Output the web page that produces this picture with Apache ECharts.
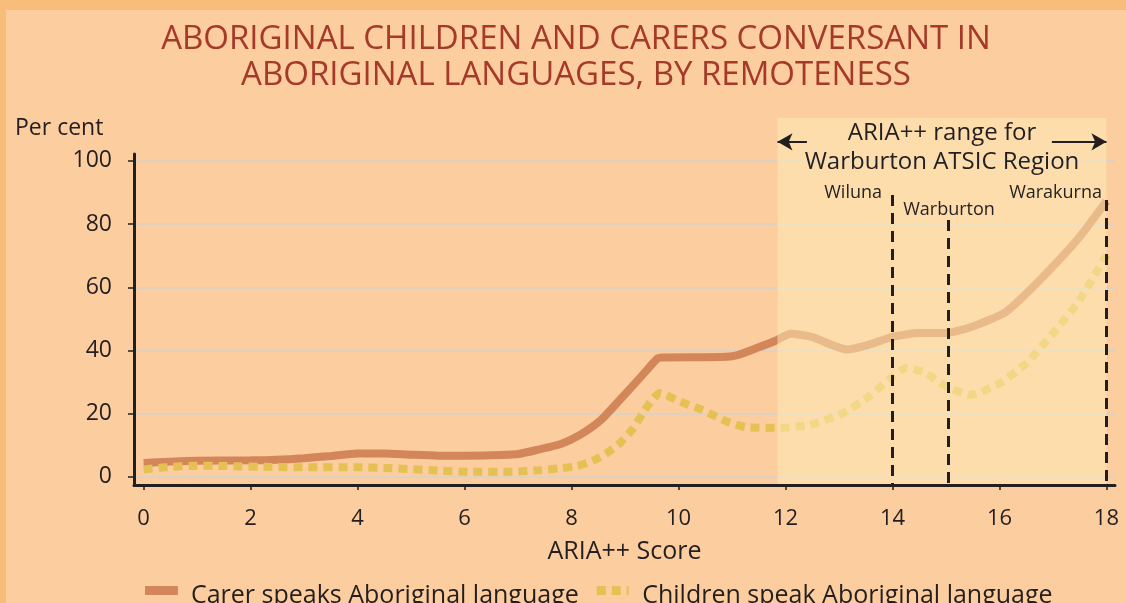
<!DOCTYPE html>
<html>
<head>
<meta charset="utf-8">
<script src="https://cdn.jsdelivr.net/npm/echarts@6/dist/echarts.min.js"></script>
<style>
  html, body { margin: 0; padding: 0; }
  #chart { width: 1126px; height: 603px; }
</style>
</head>
<body>
<div id="chart"></div>
<script>
// ARIA++ score / per cent
const carerScore = [0, 0.5, 1, 2, 2.5, 3, 3.5, 4, 4.5, 5, 5.5, 6, 6.5, 7, 7.4, 7.8, 8.15, 8.55, 8.9, 9.3, 9.6,
  9.7, 10.8, 11.1, 11.5, 11.8, 12.1, 12.5, 13.15, 13.5, 14, 14.5, 15, 15.5, 16.1, 16.5, 17.1, 17.5, 18]
const carerPct = [4.4, 4.8, 5.1, 5.2, 5.4, 5.9, 6.6, 7.4, 7.4, 7.0, 6.7, 6.7, 6.8, 7.2, 8.7, 10.4, 13.2, 18.0, 24.3, 31.7, 37.4,
  37.8, 37.9, 38.5, 41, 43, 45.3, 44.2, 40.3, 41.5, 44.3, 45.5, 45.5, 47.6, 52, 58, 68.4, 76, 87.3]

const childScore = [0, 0.4, 1, 1.5, 2.4, 3, 4, 4.5, 5, 5.5, 6.1, 6.9, 7.4, 7.8, 8.1, 8.4, 8.65, 8.9, 9.15, 9.35, 9.5, 9.65,
  10.0, 10.45, 10.95, 11.3, 11.9, 12.45, 13.05, 13.55, 14, 14.25, 14.6, 15, 15.45, 16, 16.5, 17, 17.5, 18]
const childPct = [2.3, 3.0, 3.5, 3.4, 3.1, 3.0, 3.0, 2.8, 2.4, 2.0, 1.6, 1.6, 2.1, 2.7, 3.4, 5.1, 7.4, 10.6, 15.3, 20.6, 24.2, 26.5,
  24.0, 21.1, 17.2, 15.6, 15.5, 16.4, 20, 25.3, 31.7, 34.4, 33.0, 28.6, 25.9, 29.6, 35.9, 45.4, 56, 70.2]

const xTicks = [0, 2, 4, 6, 8, 10, 12, 14, 16, 18]
const yTicks = [0, 20, 40, 60, 80, 100]

// shaded ARIA++ range for Warburton ATSIC region
const regionRange = [11.85, 18]
// communities: name, score, top of dashed marker (per cent)
const places = ['Wiluna', 'Warburton', 'Warakurna']
const placeScore = [14.0, 15.05, 18]
const placeTop = [89.2, 81.3, 87.6]

const seriesNames = ['Carer speaks Aboriginal language', 'Children speak Aboriginal language']

const INK = '#231F20'
const FONT = '"Open Sans", "Noto Sans", sans-serif'

const chart = echarts.init(document.getElementById('chart'))

const zip = (xs, ys) => xs.map((x, i) => [x, ys[i]])

// legend swatches sit in the upper half of the icon box (tiny dot pins the box height)
const carerIcon = 'path://M0,0h33v9h-33z M0,19h0.05v0.05h-0.05z'
const childIcon = 'path://M0,0h9v9h-9z M15,0h9v9h-9z M30,0h2v9h-2z M0,19h0.05v0.05h-0.05z'

const option = {
  animation: false,
  backgroundColor: '#FCCD9E',
  title: {
    text: 'ABORIGINAL CHILDREN AND CARERS CONVERSANT IN\nABORIGINAL LANGUAGES, BY REMOTENESS',
    left: 571,
    top: 17,
    textAlign: 'center',
    textStyle: { fontFamily: FONT, fontSize: 33, lineHeight: 36, fontWeight: 'normal', color: '#A53A2A' }
  },
  legend: {
    data: [
      { name: seriesNames[0], icon: carerIcon },
      { name: seriesNames[1], icon: childIcon }
    ],
    left: 140,
    top: 578,
    itemWidth: 33,
    itemHeight: 19,
    itemGap: 18,
    textStyle: { fontFamily: FONT, fontSize: 25, color: INK, padding: [0, 0, 0, 8] }
  },
  grid: [
    { left: 134, right: 11, top: 154, bottom: 118 },
    { left: 134, right: 11, top: 118, bottom: 118 }
  ],
  xAxis: [
    {
      type: 'value',
      gridIndex: 0,
      min: -0.18,
      max: 18.16,
      z: 10,
      name: 'ARIA++ Score',
      nameLocation: 'middle',
      nameGap: 54,
      nameTextStyle: { fontFamily: FONT, fontSize: 25, color: INK },
      axisLine: { onZero: false, lineStyle: { color: INK, width: 3 } },
      axisTick: { customValues: xTicks, length: 5, lineStyle: { color: INK, width: 1.5 } },
      axisLabel: { customValues: xTicks, margin: 23, fontFamily: FONT, fontSize: 22, color: INK },
      splitLine: { show: false }
    },
    { type: 'value', gridIndex: 1, min: -0.18, max: 18.16, show: false }
  ],
  yAxis: [
    {
      type: 'value',
      gridIndex: 0,
      min: -2.6,
      max: 102.2,
      name: 'Per cent',
      nameLocation: 'end',
      nameGap: 14,
      nameTextStyle: { fontFamily: FONT, fontSize: 23, color: INK, align: 'left', padding: [0, 0, 0, -119] },
      axisLine: { show: true, onZero: false, lineStyle: { color: INK, width: 3 } },
      axisTick: { show: true, customValues: yTicks, length: 6, lineStyle: { color: INK, width: 1.5 } },
      axisLabel: { customValues: yTicks, margin: 22, fontFamily: FONT, fontSize: 23, color: INK },
      splitLine: { show: true, lineStyle: { color: '#D3D2CE', width: 1.5 } }
    },
    { type: 'value', gridIndex: 1, min: 0, max: 1, show: false }
  ],
  series: [
    {
      name: seriesNames[0],
      type: 'line',
      xAxisIndex: 0,
      yAxisIndex: 0,
      data: zip(carerScore, carerPct),
      smooth: 0.2,
      symbol: 'none',
      color: '#D3865A',
      lineStyle: { width: 8, color: '#D3865A', cap: 'butt' },
      z: 2
    },
    {
      name: seriesNames[1],
      type: 'line',
      xAxisIndex: 0,
      yAxisIndex: 0,
      data: zip(childScore, childPct),
      smooth: 0.2,
      symbol: 'none',
      color: '#E4C152',
      lineStyle: { width: 8, color: '#E4C152', type: [9, 6], cap: 'butt' },
      z: 2,
      markLine: {
        z: 6,
        silent: true,
        symbol: ['none', 'none'],
        label: { show: false },
        lineStyle: { color: INK, width: 3, type: [11, 7] },
        data: places.map((p, i) => [
          { coord: [placeScore[i], placeTop[i]] },
          { coord: [placeScore[i], -2.6] }
        ])
      }
    },
    {
      // overlay band on its own taller grid
      name: 'region',
      type: 'line',
      xAxisIndex: 1,
      yAxisIndex: 1,
      data: [],
      z: 4,
      markArea: {
        z: 4,
        silent: true,
        itemStyle: { color: 'rgba(255, 238, 186, 0.5)' },
        data: [[{ xAxis: regionRange[0], yAxis: 0 }, { xAxis: regionRange[1], yAxis: 1 }]]
      },
      markLine: {
        z: 6,
        silent: true,
        symbol: ['none', 'arrow'],
        symbolSize: [13, 15],
        label: { show: false },
        lineStyle: { color: INK, width: 2, type: 'solid' },
        data: [
          [{ coord: [12.4, 0.935] }, { coord: [regionRange[0], 0.935] }],
          [{ coord: [16.98, 0.935] }, { coord: [regionRange[1], 0.935] }]
        ]
      }
    }
  ],
  graphic: [
    { type: 'rect', z: -10, shape: { x: 0, y: 0, width: 1126, height: 10 }, style: { fill: '#F9BD7B' } },
    { type: 'rect', z: -10, shape: { x: 0, y: 0, width: 6, height: 603 }, style: { fill: '#F9BD7B' } },
    { type: 'text', x: 942, y: 133, z: 20, style: { text: 'ARIA++ range for', font: '24px ' + FONT, fill: INK, align: 'center', verticalAlign: 'middle' } },
    { type: 'text', x: 942, y: 162, z: 20, style: { text: 'Warburton ATSIC Region', font: '24px ' + FONT, fill: INK, align: 'center', verticalAlign: 'middle' } },
    { type: 'text', x: 882, y: 193, z: 20, style: { text: places[0], font: '18px ' + FONT, fill: INK, align: 'right', verticalAlign: 'middle' } },
    { type: 'text', x: 949, y: 210, z: 20, style: { text: places[1], font: '18px ' + FONT, fill: INK, align: 'center', verticalAlign: 'middle' } },
    { type: 'text', x: 1102, y: 193, z: 20, style: { text: places[2], font: '18px ' + FONT, fill: INK, align: 'right', verticalAlign: 'middle' } }
  ]
}

chart.setOption(option)
</script>
</body>
</html>
